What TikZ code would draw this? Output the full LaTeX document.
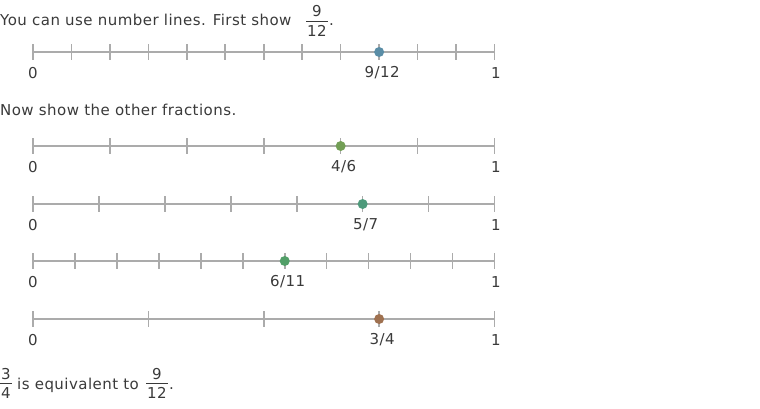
\documentclass[tikz,border=0pt]{standalone}
\usepackage{fontspec}
\setmainfont{DejaVu Sans}[LetterSpace=3]
\usetikzlibrary{positioning}
\definecolor{ink}{HTML}{3A3A3A}
\definecolor{axisgray}{HTML}{ABABAB}
\definecolor{dotA}{HTML}{5A8DA6}
\definecolor{dotB}{HTML}{729E55}
\definecolor{dotC}{HTML}{4E9A7B}
\definecolor{dotD}{HTML}{529F68}
\definecolor{dotE}{HTML}{9F7150}
\tikzset{
  txt/.style={font=\fontsize{15}{18}\selectfont,text=ink,inner sep=0pt},
  axis/.style={draw=axisgray,line width=1.6pt},
  fracbar/.style={draw=ink,line width=0.9pt},
  dot/.style={circle,inner sep=0pt,minimum size=10pt},
}

\begin{document}
\begin{tikzpicture}[x=1pt,y=-1pt]
\useasboundingbox (0,0) rectangle (760,408);
\node[txt,anchor=base west] (intro) at (0,25){You can use number lines. First show};
\node[txt,anchor=base] (introNum) at (317,16){9};
\draw[fracbar] (306,21.5)--(328,21.5);
\node[txt,anchor=base] (introDen) at (317,36.5){12};
\node[txt,anchor=base west] (introStop) at (329,25){.};
\node[txt,anchor=base west] (other) at (0,115){Now show the other fractions.};
\foreach \nm/\y/\d/\k/\col in {twelfths/52/12/9/dotA,sixths/146/6/4/dotB,sevenths/204/7/5/dotC,elevenths/261/11/6/dotD,quarters/319/4/3/dotE}{
  \draw[axis] (33,\y)--(494.5,\y);
  \foreach \i in {0,...,\d}{\draw[axis] (33+461.5*\i/\d,\y-8)--(33+461.5*\i/\d,\y+8);}
  \node[txt] (\nm-zero) at (33,\y+21){0};
  \node[txt] (\nm-one) at (496,\y+21){1};
  \node[dot,fill=\col] (\nm-pt) at (33+461.5*\k/\d,\y){};
  \node[txt] (\nm-lab) at (36+461.5*\k/\d,\y+21){\k/\d};
}
\node[txt,anchor=base] (endNum) at (6,379){3};
\draw[fracbar] (0,383.5)--(12,383.5);
\node[txt,anchor=base] (endDen) at (6,398){4};
\node[txt,anchor=base west] (equiv) at (17,389){is equivalent to};
\node[txt,anchor=base] (endNumB) at (157,379){9};
\draw[fracbar] (146,383.5)--(168,383.5);
\node[txt,anchor=base] (endDenB) at (157,398){12};
\node[txt,anchor=base west] (endStop) at (169,389){.};
\end{tikzpicture}
\end{document}
